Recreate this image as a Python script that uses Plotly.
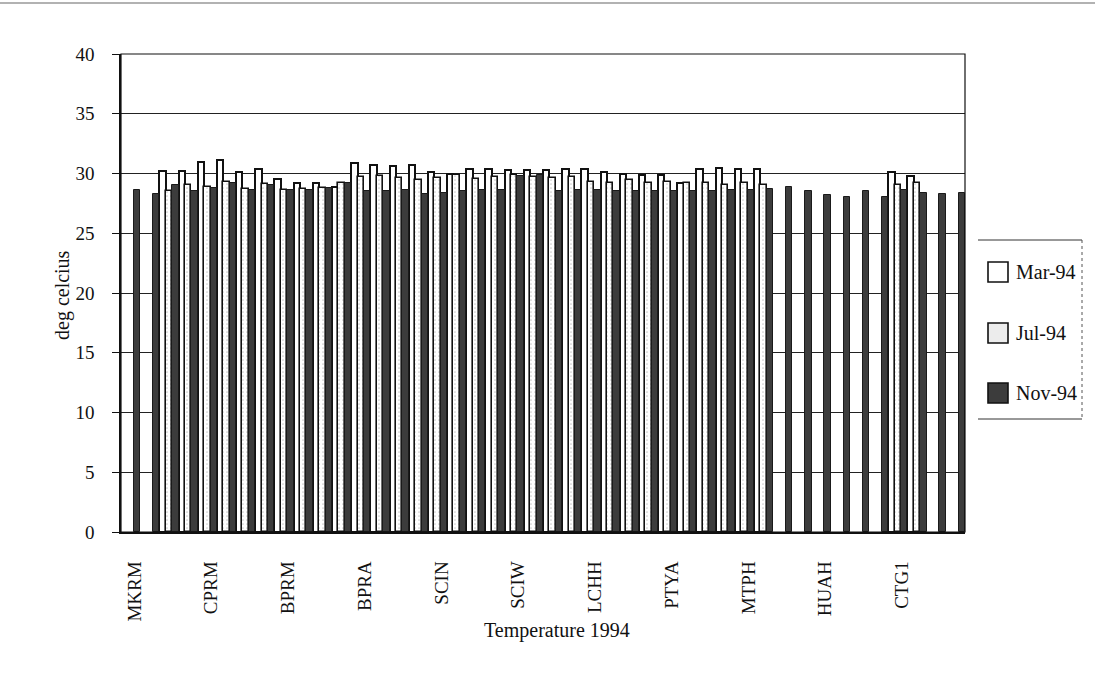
import plotly.graph_objects as go

# Monthly water temperature at each sampling site, 1994 (deg C)
site_index = list(range(44))
tick_sites = [0, 4, 8, 12, 16, 20, 24, 28, 32, 36, 40]
tick_labels = ["MKRM", "CPRM", "BPRM", "BPRA", "SCIN", "SCIW",
               "LCHH", "PTYA", "MTPH", "HUAH", "CTG1"]

mar_94 = [None, None, 30.2, 30.2, 31.0, 31.1, 30.1, 30.35, 29.5, 29.2,
          29.2, 28.9, 30.85, 30.7, 30.6, 30.7, 30.1, 30.0, 30.35, 30.35,
          30.3, 30.3, 30.3, 30.35, 30.35, 30.15, 30.0, 29.9, 29.9, 29.2,
          30.35, 30.5, 30.4, 30.35, None, None, None, None, None, None,
          30.1, 29.75, None, None]
jul_94 = [None, None, 28.5, 29.0, 28.9, 29.3, 28.7, 29.1, 28.6, 28.7,
          28.8, 29.2, 29.7, 29.8, 29.6, 29.45, 29.6, 29.9, 29.5, 29.7,
          29.9, 29.7, 29.6, 29.7, 29.3, 29.2, 29.45, 29.2, 29.3, 29.2,
          29.2, 29.0, 29.2, 29.0, None, None, None, None, None, None,
          29.0, 29.2, None, None]
nov_94 = [28.6, 28.3, 29.0, 28.5, 28.8, 29.2, 28.6, 29.0, 28.6, 28.6,
          28.8, 29.2, 28.5, 28.5, 28.6, 28.3, 28.4, 28.5, 28.6, 28.6,
          29.8, 29.9, 28.5, 28.6, 28.6, 28.5, 28.5, 28.5, 28.5, 28.5,
          28.5, 28.6, 28.6, 28.7, 28.9, 28.55, 28.2, 28.05, 28.5, 28.05,
          28.6, 28.35, 28.3, 28.4]

series_names = ["Mar-94", "Jul-94", "Nov-94"]

W, H = 1095, 684
L, R, T, B = 121, 965, 54, 532
FONT = "Liberation Serif, Times New Roman, serif"
NOV_FILL = "#3c3c3c"


def px(x):
    return (x - L) / (R - L)


def py(y):
    return (B - y) / (B - T)


fig = go.Figure()
fig.add_bar(x=site_index, y=mar_94, name=series_names[0],
            marker=dict(color="white", line=dict(color="#111", width=2)))
fig.add_bar(x=site_index, y=jul_94, name=series_names[1],
            marker=dict(color="white", line=dict(color="#111", width=1.6),
                        pattern=dict(shape=".", fgcolor="#999", bgcolor="white",
                                     size=4, solidity=0.15)))
fig.add_bar(x=site_index, y=nov_94, name=series_names[2],
            marker=dict(color=NOV_FILL, line=dict(color="#1a1a1a", width=1)))

shapes = [
    # plot frame
    dict(type="rect", xref="paper", yref="paper", x0=0, x1=1, y0=0, y1=1,
         line=dict(color="#111", width=1.2), layer="above"),
    # page rule along the top edge
    dict(type="line", xref="paper", yref="paper", x0=px(0), x1=px(W),
         y0=py(3), y1=py(3), line=dict(color="#666", width=1.2)),
    # legend frame
    dict(type="line", xref="paper", yref="paper", x0=px(978), x1=px(1082),
         y0=py(240), y1=py(240), line=dict(color="#333", width=1)),
    dict(type="line", xref="paper", yref="paper", x0=px(978), x1=px(1082),
         y0=py(419), y1=py(419), line=dict(color="#333", width=1)),
    dict(type="line", xref="paper", yref="paper", x0=px(1082), x1=px(1082),
         y0=py(240), y1=py(419), line=dict(color="#555", width=1, dash="dot")),
]

legend_fill = ["white", "#ececec", NOV_FILL]
legend_y = [272, 333, 393]
annotations = []
for name, fill, yc in zip(series_names, legend_fill, legend_y):
    shapes.append(dict(type="rect", xref="paper", yref="paper",
                       x0=px(988), x1=px(1008), y0=py(yc + 10), y1=py(yc - 10),
                       fillcolor=fill, line=dict(color="#111", width=1.6)))
    annotations.append(dict(text=name, xref="paper", yref="paper",
                            x=px(1014), y=py(yc), xanchor="left", yanchor="middle",
                            showarrow=False, font=dict(family=FONT, size=20, color="#111")))

annotations.append(dict(text="Temperature 1994", xref="paper", yref="paper",
                        x=px(557), y=py(630), xanchor="center", yanchor="middle",
                        showarrow=False, font=dict(family=FONT, size=20, color="#111")))
annotations.append(dict(text="deg celcius", xref="paper", yref="paper",
                        x=px(62), y=py(295), xanchor="center", yanchor="middle",
                        textangle=-90, showarrow=False,
                        font=dict(family=FONT, size=20, color="#111")))

fig.update_layout(
    width=W, height=H,
    margin=dict(l=L, r=W - R, t=T, b=H - B, pad=0),
    paper_bgcolor="white", plot_bgcolor="white",
    barmode="group", bargap=0.0, bargroupgap=0.0,
    showlegend=False,
    shapes=shapes, annotations=annotations,
    font=dict(family=FONT, color="#111"),
)
fig.update_xaxes(range=[-0.5, 43.5], tickmode="array", tickvals=tick_sites,
                 ticktext=tick_labels, tickangle=-90, ticks="",
                 ticklabelstandoff=20, ticklabelshift=4,
                 tickfont=dict(family=FONT, size=19, color="#111"),
                 showgrid=False, showline=True, linecolor="#111", linewidth=1.5,
                 zeroline=False)
fig.update_yaxes(range=[0, 40], dtick=5, ticks="outside", ticklen=7,
                 tickcolor="#111", ticklabelstandoff=14,
                 tickfont=dict(family=FONT, size=19, color="#111"),
                 showgrid=True, gridcolor="#222", gridwidth=1,
                 showline=True, linecolor="#111", linewidth=1.5, zeroline=False)

fig.write_html("out.html")
